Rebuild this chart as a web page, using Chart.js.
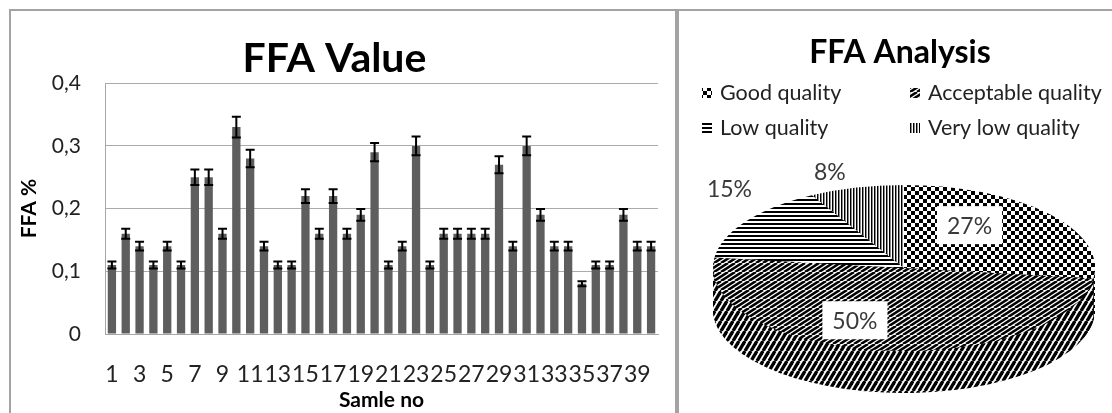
<!doctype html>
<html lang="en">
<head>
  <meta charset="utf-8">
  <title>FFA Value / FFA Analysis</title>
  <script src="https://cdn.jsdelivr.net/npm/chart.js@4.4.1/dist/chart.umd.min.js"></script>
  <style>
    html, body { margin: 0; padding: 0; background: #fff; overflow: hidden; }
    body { width: 1112px; height: 413px; position: relative; font-family: Lato, sans-serif; }
    .panel { position: absolute; top: 9px; height: 420px; box-sizing: border-box; border: 2px solid #a3a3a3; border-bottom: none; }
    #left { left: 9px; width: 668px; }
    #right { left: 677px; width: 450px; border-right: none; }
    .box { position: absolute; left: 0; top: 0; height: 402px; }
    #left .box { width: 664px; }
    #right .box { width: 433px; }
  </style>
</head>
<body>
  <div class="panel" id="left"><div class="box"><canvas id="bars"></canvas></div></div>
  <div class="panel" id="right"><div class="box"><canvas id="pie"></canvas></div></div>

  <script>
    // FFA per sample
    const sampleNos = ['1', '2', '3', '4', '5', '6', '7', '8', '9', '10',
      '11', '12', '13', '14', '15', '16', '17', '18', '19', '20',
      '21', '22', '23', '24', '25', '26', '27', '28', '29', '30',
      '31', '32', '33', '34', '35', '36', '37', '38', '39', '40'];
    const ffaValues = [0.11, 0.16, 0.14, 0.11, 0.14, 0.11, 0.25, 0.25, 0.16, 0.33,
      0.28, 0.14, 0.11, 0.11, 0.22, 0.16, 0.22, 0.16, 0.19, 0.29,
      0.11, 0.14, 0.30, 0.11, 0.16, 0.16, 0.16, 0.16, 0.27, 0.14,
      0.30, 0.19, 0.14, 0.14, 0.08, 0.11, 0.11, 0.19, 0.14, 0.14];
    const ffaErrors = [0.0055, 0.008, 0.007, 0.0055, 0.007, 0.0055, 0.0125, 0.0125, 0.008, 0.0165,
      0.014, 0.007, 0.0055, 0.0055, 0.011, 0.008, 0.011, 0.008, 0.0095, 0.0145,
      0.0055, 0.007, 0.015, 0.0055, 0.008, 0.008, 0.008, 0.008, 0.0135, 0.007,
      0.015, 0.0095, 0.007, 0.007, 0.004, 0.0055, 0.0055, 0.0095, 0.007, 0.007];
    const yTicks = [0, 0.1, 0.2, 0.3, 0.4];

    // quality classes
    const qualityLabels = ['Good quality', 'Acceptable quality', 'Low quality', 'Very low quality'];
    const qualityShares = [27, 50, 15, 8];

    Chart.defaults.font.family = 'Lato, sans-serif';
    Chart.defaults.color = '#303030';

    const errorBars = {
      id: 'errorBars',
      afterDatasetsDraw(chart) {
        const { ctx, scales: { y } } = chart;
        const cap = 4.5;
        ctx.save();
        ctx.strokeStyle = '#000';
        ctx.lineWidth = 2;
        chart.getDatasetMeta(0).data.forEach((bar, i) => {
          const top = y.getPixelForValue(ffaValues[i] + ffaErrors[i]);
          const bot = y.getPixelForValue(ffaValues[i] - ffaErrors[i]);
          ctx.beginPath();
          ctx.moveTo(bar.x, top); ctx.lineTo(bar.x, bot);
          ctx.moveTo(bar.x - cap, top); ctx.lineTo(bar.x + cap, top);
          ctx.moveTo(bar.x - cap, bot); ctx.lineTo(bar.x + cap, bot);
          ctx.stroke();
        });
        ctx.restore();
      }
    };

    new Chart(document.getElementById('bars'), {
      type: 'bar',
      data: {
        labels: sampleNos,
        datasets: [{
          data: ffaValues,
          backgroundColor: '#5e5e5e',
          barPercentage: 0.6,
          categoryPercentage: 1
        }]
      },
      options: {
        responsive: true,
        maintainAspectRatio: false,
        animation: false,
        layout: { padding: { left: 0, right: 17, top: 0, bottom: 0 } },
        plugins: {
          legend: { display: false },
          tooltip: { enabled: false },
          title: {
            display: true, text: 'FFA Value', color: '#000',
            font: { size: 41, weight: 'bold' }, padding: { top: 23, bottom: 0 }
          }
        },
        scales: {
          x: {
            grid: { display: false },
            border: { display: true, color: '#a6a6a6' },
            ticks: {
              color: '#222', font: { size: 23 }, padding: 19,
              autoSkip: false, maxRotation: 0, minRotation: 0,
              callback: (v, i) => (i % 2 === 0 ? sampleNos[i] : '')
            },
            title: {
              display: true, text: 'Samle no', color: '#000',
              font: { size: 21, weight: 'bold' }, padding: { top: 0, bottom: 0 }
            },
            afterFit: s => { s.height = 79; }
          },
          y: {
            min: 0,
            max: 0.4,
            afterBuildTicks: s => { s.ticks = yTicks.map(value => ({ value })); },
            grid: { color: '#ababab', drawTicks: false },
            border: { display: true, color: '#a6a6a6' },
            ticks: {
              color: '#222', font: { size: 21 }, padding: 24,
              callback: v => (v === 0 ? '0' : v.toFixed(1).replace('.', ','))
            },
            title: {
              display: true, text: 'FFA %', color: '#000',
              font: { size: 21, weight: 'bold' }, padding: { top: 6, bottom: 0 }
            },
            afterFit: s => { s.width = 94; }
          }
        }
      },
      plugins: [errorBars]
    });

    // ---- 3D pie ----
    const pieCanvas = document.getElementById('pie');
    const pctx = pieCanvas.getContext('2d');

    function tile(w, h, paint) {
      const c = document.createElement('canvas');
      c.width = w; c.height = h;
      const g = c.getContext('2d');
      g.fillStyle = '#fff';
      g.fillRect(0, 0, w, h);
      g.fillStyle = g.strokeStyle = '#000';
      paint(g, w, h);
      return pctx.createPattern(c, 'repeat');
    }

    function diagonal(w, h, lw, step) {
      return tile(w, h, g => {
        g.lineWidth = lw;
        for (let x0 = -2 * w; x0 <= w; x0 += step) {
          g.beginPath();
          g.moveTo(x0, h);
          g.lineTo(x0 + w, 0);
          g.stroke();
        }
      });
    }

    const topPatterns = [
      tile(8, 8, g => { g.fillRect(0, 0, 4, 4); g.fillRect(4, 4, 4, 4); }),
      diagonal(14, 9, 2.6, 7),
      tile(4, 4, g => { g.fillRect(0, 0, 4, 2); }),
      tile(3, 3, g => { g.fillRect(0, 0, 1, 3); g.fillStyle = '#8a8a8a'; g.fillRect(1, 0, 1, 3); })
    ];
    const sidePatterns = [
      tile(6, 6, g => { g.fillRect(0, 0, 4, 3); g.fillRect(3, 3, 4, 3); g.fillRect(0, 3, 1, 3); }),
      diagonal(6, 10, 3.4, 6),
      tile(4, 3, g => { g.fillRect(0, 0, 4, 2); }),
      tile(2, 2, g => { g.fillRect(0, 0, 1, 2); })
    ];

    const pieShape = { cx: 225, cy: 257, rx: 191, ry: 83, depth: 42 };
    const labelPlace = [
      { shift: -15, r: 0.62, box: true },
      { shift: 15, r: 0.68, box: true },
      { shift: 12, r: 1.32, box: false },
      { shift: -4, r: 1.23, box: false }
    ];
    const legendCells = [[23, 82], [231, 82], [23, 117], [231, 117]];

    function toEllipse(ctx, arc, dy) {
      ctx.translate(pieShape.cx, pieShape.cy + dy);
      ctx.scale(pieShape.rx / arc.outerRadius, pieShape.ry / arc.outerRadius);
      ctx.translate(-arc.x, -arc.y);
    }

    const pie3d = {
      id: 'pie3d',
      beforeDatasetsDraw(chart) {
        const ctx = chart.ctx;
        const arcs = chart.getDatasetMeta(0).data;
        // side wall: stack the slices downwards
        for (let d = pieShape.depth; d > 0; d--) {
          arcs.forEach((arc, i) => {
            ctx.save();
            toEllipse(ctx, arc, d);
            const pat = sidePatterns[i];
            pat.setTransform(ctx.getTransform().inverse());
            ctx.fillStyle = pat;
            ctx.beginPath();
            ctx.moveTo(arc.x, arc.y);
            ctx.arc(arc.x, arc.y, arc.outerRadius, arc.startAngle, arc.endAngle);
            ctx.closePath();
            ctx.fill();
            ctx.restore();
          });
        }
        // top face is drawn by the controller inside this transform
        ctx.save();
        toEllipse(ctx, arcs[0], 0);
        topPatterns.forEach(p => p.setTransform(ctx.getTransform().inverse()));
      },
      afterDatasetsDraw(chart) {
        const ctx = chart.ctx;
        ctx.restore();
        const arcs = chart.getDatasetMeta(0).data;
        const total = qualityShares.reduce((a, b) => a + b, 0);
        ctx.save();
        ctx.font = '23px Lato';
        ctx.textAlign = 'center';
        ctx.textBaseline = 'middle';
        arcs.forEach((arc, i) => {
          const p = labelPlace[i];
          const a = (arc.startAngle + arc.endAngle) / 2 + p.shift * Math.PI / 180;
          const x = pieShape.cx + p.r * pieShape.rx * Math.cos(a);
          const y = pieShape.cy + p.r * pieShape.ry * Math.sin(a);
          const text = Math.round(qualityShares[i] / total * 100) + '%';
          if (p.box) {
            const w = ctx.measureText(text).width + 20;
            ctx.fillStyle = '#fff';
            ctx.fillRect(x - w / 2, y - 19, w, 38);
          }
          ctx.fillStyle = '#3a3a3a';
          ctx.fillText(text, x, y + 1);
        });
        ctx.restore();
      },
      afterDraw(chart) {
        const ctx = chart.ctx;
        ctx.save();
        ctx.font = '21.5px Lato';
        ctx.textAlign = 'left';
        ctx.textBaseline = 'middle';
        qualityLabels.forEach((label, i) => {
          const [x, y] = legendCells[i];
          const pat = topPatterns[i];
          pat.setTransform(new DOMMatrix());
          ctx.fillStyle = pat;
          ctx.fillRect(x, y - 5, 10, 10);
          ctx.fillStyle = '#222';
          ctx.fillText(label, x + 18, y);
        });
        ctx.restore();
      }
    };

    new Chart(pieCanvas, {
      type: 'pie',
      data: {
        labels: qualityLabels,
        datasets: [{
          data: qualityShares,
          backgroundColor: topPatterns,
          borderWidth: 0,
          clip: false
        }]
      },
      options: {
        responsive: true,
        maintainAspectRatio: false,
        animation: false,
        layout: { padding: { left: 9 } },
        plugins: {
          legend: { display: false },
          tooltip: { enabled: false },
          title: {
            display: true, text: 'FFA Analysis', color: '#000',
            font: { size: 32, weight: 'bold' }, padding: { top: 22, bottom: 0 }
          }
        }
      },
      plugins: [pie3d]
    });
  </script>
</body>
</html>
